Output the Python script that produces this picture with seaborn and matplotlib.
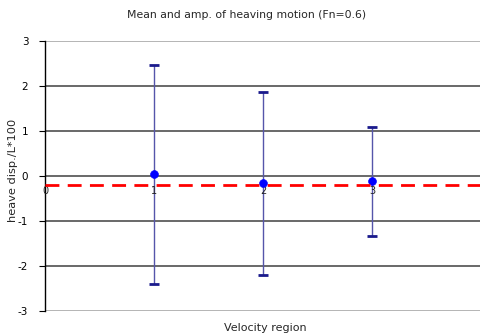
import matplotlib
matplotlib.use("Agg")
import matplotlib.pyplot as plt
import seaborn as sns
import pandas as pd

regions = [1, 2, 3]
mean_vals = [0.04, -0.16, -0.12]
upper_vals = [2.47, 1.86, 1.08]
lower_vals = [-2.40, -2.20, -1.33]
ref_level = -0.2
x_ticks = [0, 1, 2, 3]
y_ticks = [-3, -2, -1, 0, 1, 2, 3]

df = pd.DataFrame({"region": regions, "mean": mean_vals,
                   "upper": upper_vals, "lower": lower_vals})

sns.set_theme(style="white")
plt.rcParams['font.family'] = ['DejaVu Sans']
plt.rcParams['axes.unicode_minus'] = False

fig = plt.figure(figsize=(4.81, 3.35), dpi=100)
ax = fig.add_axes([45/481, 1-311/335, 1-45/481, 270/335])

ax.set_xlim(0, 4)
ax.set_ylim(-3, 3)

for y in y_ticks:
    c = "#a0a0a0" if abs(y) == 3 else "#404040"
    ax.axhline(y, color=c, lw=1.1, zorder=1)

yerr = [[m - l for m, l in zip(mean_vals, lower_vals)],
        [u - m for u, m in zip(upper_vals, mean_vals)]]
ax.errorbar(df["region"], df["mean"], yerr=yerr, fmt="none",
            ecolor="#5555aa", elinewidth=1.0, capsize=0, zorder=2)
ax.scatter(df["region"], df["upper"], marker="_", s=60, color="#1a1a8c", lw=2, zorder=3)
ax.scatter(df["region"], df["lower"], marker="_", s=60, color="#1a1a8c", lw=2, zorder=3)

sns.scatterplot(data=df, x="region", y="mean", ax=ax, color="#0000ff",
                s=32, edgecolor="#0000ff", zorder=4, legend=False)

ax.axhline(ref_level, color="#ff0000", lw=2, ls=(0, (5, 3)), zorder=5)

for s in ["top", "right", "bottom"]:
    ax.spines[s].set_visible(False)
ax.spines["left"].set_color("black")
ax.spines["left"].set_linewidth(1.0)

ax.set_yticks(y_ticks)
ax.set_yticklabels([str(v) for v in y_ticks], fontsize=7.5, color="black")
ax.tick_params(axis="y", length=4, width=0.8, color="black", pad=8, left=True)
ax.set_xticks([])
for xv in x_ticks:
    ax.text(xv, -0.22, str(xv), ha="center", va="top", fontsize=7, color="#222222", zorder=3)

ax.set_xlabel("")
ax.set_ylabel("")
fig.text(13/481, 1 - 170/335, "heave disp./L*100", rotation=90, ha="center",
         va="center", fontsize=8.2)
fig.text(265/481, 1 - 328/335, "Velocity region", ha="center", va="center", fontsize=8)
fig.text(247/481, 1 - 15/335, "Mean and amp. of heaving motion (Fn=0.6)", ha="center",
         va="center", fontsize=7.8)

fig.savefig("out.png", dpi=100)
